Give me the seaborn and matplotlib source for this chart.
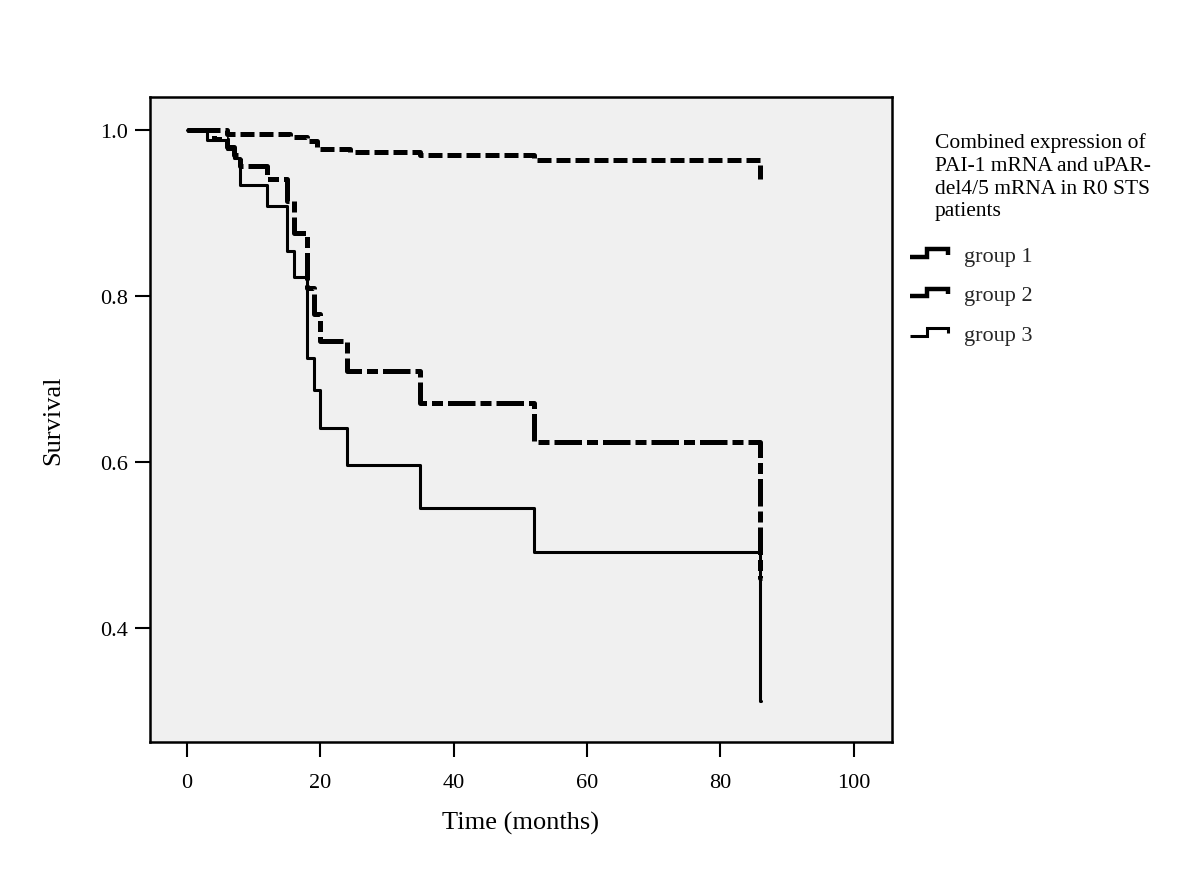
import numpy as np
import pandas as pd
import matplotlib
matplotlib.use("Agg")
import matplotlib.pyplot as plt
from matplotlib.lines import Line2D
from matplotlib.legend_handler import HandlerLine2D
import seaborn as sns

# ---- data ----
group_names = ["group 1", "group 2", "group 3"]

g1_time = [0, 6, 15.5, 18, 19.5, 24.5, 35, 52, 86, 86.3]
g1_surv = [1.0, 0.996, 0.992, 0.987, 0.978, 0.974, 0.970, 0.965, 0.942, 0.942]

g2_time = [0, 4, 6, 7, 8, 12, 15, 16, 18, 19, 20, 24, 35, 52, 86, 86.3]
g2_surv = [1.0, 0.990, 0.980, 0.970, 0.957, 0.941, 0.915, 0.877, 0.810, 0.779,
           0.746, 0.710, 0.671, 0.625, 0.461, 0.461]

g3_time = [0, 3, 6, 7, 8, 12, 15, 16, 18, 19, 20, 24, 35, 52, 86, 86.1]
g3_surv = [1.0, 0.989, 0.978, 0.967, 0.934, 0.909, 0.855, 0.824, 0.726, 0.687,
           0.642, 0.597, 0.545, 0.492, 0.312, 0.312]

x_ticks = [0, 20, 40, 60, 80, 100]
y_ticks = [0.4, 0.6, 0.8, 1.0]
legend_title = "Combined expression of\nPAI-1 mRNA and uPAR-\ndel4/5 mRNA in R0 STS\npatients"

frames = []
for name, t, s in zip(group_names, [g1_time, g2_time, g3_time], [g1_surv, g2_surv, g3_surv]):
    frames.append(pd.DataFrame({"Time": t, "Survival": s, "group": name}))
df = pd.concat(frames, ignore_index=True)

sns.set_theme(style="white")
plt.rcParams["font.family"] = ["Liberation Serif", "DejaVu Serif"]

fig = plt.figure(figsize=(12, 8.7), dpi=100)
ax = fig.add_axes([0.125, 0.146, 0.618, 0.741])
ax.set_facecolor("#f0f0f0")

dash_map = {"group 1": (2.8, 1.0), "group 2": (5.5, 1.0, 2.2, 1.0), "group 3": ""}
size_map = {"group 1": 3.6, "group 2": 3.6, "group 3": 2.2}

sns.lineplot(
    data=df, x="Time", y="Survival", hue="group", style="group", size="group",
    palette={"group 1": "black", "group 2": "black", "group 3": "black"},
    dashes=dash_map, sizes=size_map,
    drawstyle="steps-post", estimator=None, sort=False, ax=ax, legend=True,
)

ax.set_xlim(-5.55, 105.7)
ax.set_ylim(0.263, 1.04)
ax.set_xticks(x_ticks)
ax.set_xticklabels([str(v) for v in x_ticks])
ax.set_yticks(y_ticks)
ax.set_yticklabels([f"{v:.1f}" for v in y_ticks])
ax.tick_params(axis="both", direction="out", length=11, width=1.5, colors="black",
               labelsize=16, left=True, bottom=True)
ax.tick_params(axis="x", pad=11)
ax.tick_params(axis="y", pad=5)
ax.set_xlabel("Time (months)", fontsize=19, labelpad=14, color="black")
ax.set_ylabel("Survival", fontsize=19, labelpad=26, color="black")
for sp in ax.spines.values():
    sp.set_visible(True)
    sp.set_color("black")
    sp.set_linewidth(1.8)


class StepHandler(HandlerLine2D):
    def create_artists(self, legend, orig_handle, xdescent, ydescent, width, height,
                       fontsize, trans):
        x0, x1 = -xdescent, -xdescent + width
        xm = x0 + width * 0.45
        ylo = -ydescent + height * 0.25
        yhi = -ydescent + height * 0.75
        line = Line2D([x0, xm, xm, x1, x1], [ylo, ylo, yhi, yhi, ylo + height * 0.15])
        self.update_prop(line, orig_handle, legend)
        line.set_drawstyle("default")
        line.set_linestyle("-")
        line.set_linewidth(min(orig_handle.get_linewidth(), 3.2))
        line.set_solid_capstyle("butt")
        line.set_solid_joinstyle("miter")
        line.set_transform(trans)
        return [line]


handles, labels = ax.get_legend_handles_labels()
leg = ax.legend(handles, labels, loc="upper left",
                bbox_to_anchor=(0.758, 0.717), bbox_transform=fig.transFigure,
                frameon=False, fontsize=16, handlelength=1.75, labelspacing=0.85,
                handletextpad=0.7, borderaxespad=0, borderpad=0,
                handler_map={Line2D: StepHandler()})

fig.text(0.779, 0.847, legend_title, fontsize=15.5, va="top", ha="left",
         linespacing=1.27, color="black")

fig.savefig("out.png", dpi=100, facecolor="white")
